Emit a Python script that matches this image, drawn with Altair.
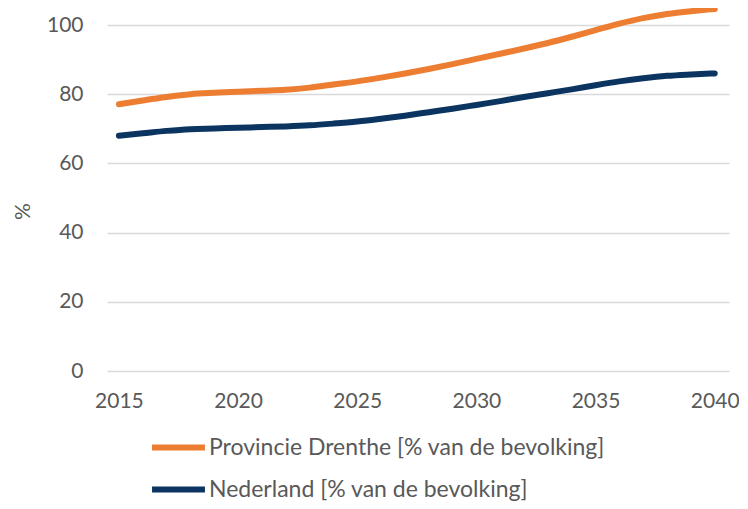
import altair as alt
import pandas as pd

years = list(range(2015, 2041))
drenthe = [77.1, 78.2, 79.2, 80.0, 80.4, 80.7, 81.0, 81.3, 81.9, 82.8, 83.7, 84.8,
           86.0, 87.3, 88.7, 90.2, 91.7, 93.2, 94.8, 96.6, 98.5, 100.4, 102.0,
           103.2, 104.0, 104.6]
nederland = [68.0, 68.7, 69.4, 69.9, 70.1, 70.3, 70.5, 70.7, 71.0, 71.5, 72.1, 72.9,
             73.8, 74.8, 75.8, 76.9, 78.0, 79.2, 80.3, 81.4, 82.6, 83.7, 84.6,
             85.3, 85.7, 86.0]
series_names = ["Provincie Drenthe [% van de bevolking]", "Nederland [% van de bevolking]"]
series_colors = ["#ED7D31", "#0B3560"]
x_ticks = [2015, 2020, 2025, 2030, 2035, 2040]
y_ticks = [0, 20, 40, 60, 80, 100]

rows = []
for name, vals in zip(series_names, [drenthe, nederland]):
    for y, v in zip(years, vals):
        rows.append({"jaar": y, "waarde": v, "reeks": name})
df = pd.DataFrame(rows)

FONT = "Lato"
GREY = "#595959"

chart = alt.Chart(df).mark_line(strokeWidth=6, strokeCap="round", interpolate="monotone").encode(
    x=alt.X("jaar:Q",
            scale=alt.Scale(domain=[2014.5, 2040.6], nice=False, zero=False),
            axis=alt.Axis(values=x_ticks, format="d", title=None, grid=False, domain=False,
                          ticks=False, labelFontSize=21, labelColor=GREY, labelPadding=19,
                          labelFont=FONT)),
    y=alt.Y("waarde:Q",
            scale=alt.Scale(domain=[0, 100], nice=False),
            axis=alt.Axis(values=y_ticks, title="%", titleFontSize=21, titleFontWeight="normal",
                          titleColor=GREY, titleFont=FONT, titleX=-74, titleY=186,
                          grid=True, gridColor="#D9D9D9", gridWidth=1.5, domain=False,
                          ticks=False, labelFontSize=21, labelColor=GREY, labelPadding=24,
                          labelFont=FONT)),
    color=alt.Color("reeks:N",
                    scale=alt.Scale(domain=series_names, range=series_colors),
                    legend=alt.Legend(title=None, orient="none", legendX=42, legendY=393,
                                      direction="vertical", symbolType="stroke",
                                      symbolSize=2800, symbolStrokeWidth=6,
                                      labelFontSize=23, labelColor=GREY, labelFont=FONT,
                                      labelLimit=0, rowPadding=-16, labelOffset=1)),
).properties(
    width=622, height=346,
    padding={"left": 99, "top": 17, "right": 10, "bottom": 130},
    autosize=alt.AutoSizeParams(type="none"),
).configure_view(stroke=None)

chart.save("out.html", embed_options={"renderer": "svg", "actions": False})
